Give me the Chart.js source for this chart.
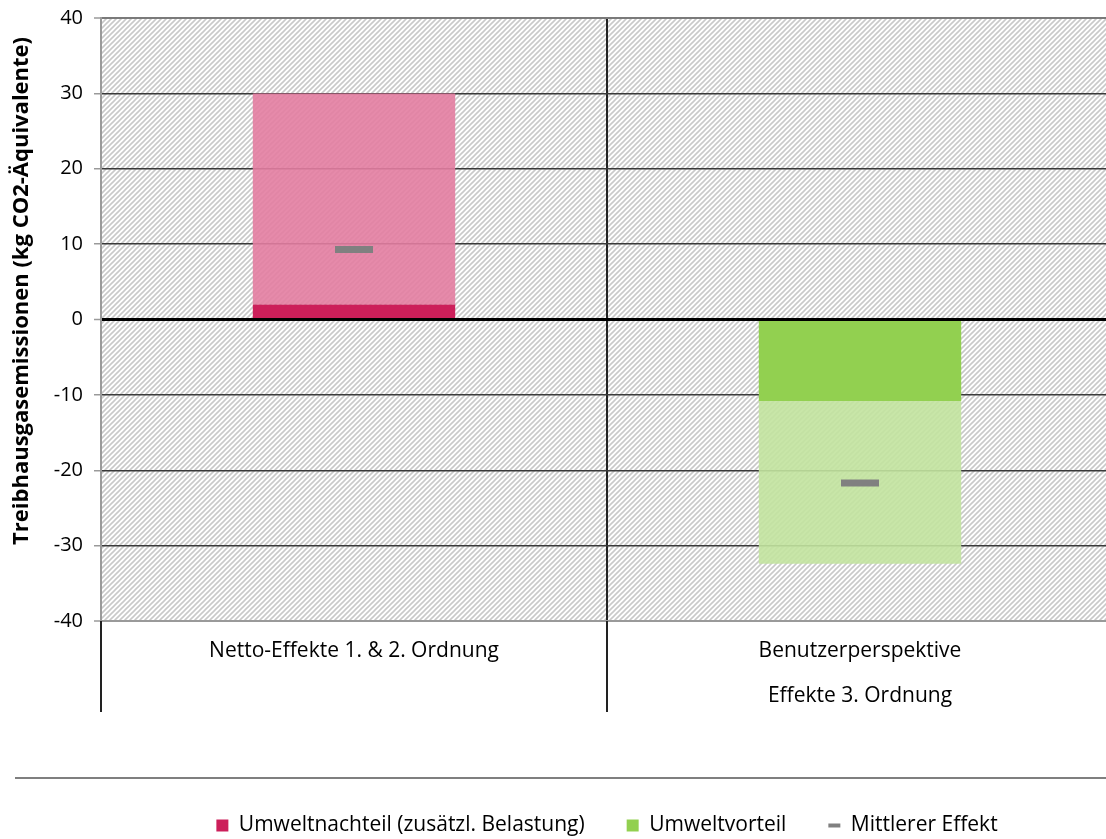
<!DOCTYPE html>
<html>
<head>
<meta charset="utf-8">
<script src="https://cdn.jsdelivr.net/npm/chart.js@4"></script>
<style>
    body { margin: 0; background: #fff; }
    #wrap { width: 1106px; height: 839px; overflow: hidden; position: relative; }
    #chart { display: block; }
</style>
</head>
<body>
<div id="wrap"><canvas id="chart" width="1113" height="846"></canvas></div>
<script>
// chart data
const categories = ['Netto-Effekte 1. & 2. Ordnung', ['Benutzerperspektive', 'Effekte 3. Ordnung']];
const nachteilSicher = [2, null];      // dark pink, from 0
const nachteilSpanne = [28, null];     // light pink, stacked on top
const vorteilSicher = [null, -10.8];   // dark green, from 0
const vorteilSpanne = [null, -21.6];   // light green, stacked below
const mittlererEffekt = [9.3, -21.7];
const yTicks = [-40, -30, -20, -10, 0, 10, 20, 30, 40];

const legendLabels = ['Umweltnachteil (zusätzl. Belastung)', 'Umweltvorteil', 'Mittlerer Effekt'];

const FONT = "'Open Sans', 'DejaVu Sans', sans-serif";

// diagonal hatch used as plot background
function makeHatch() {
    const c = document.createElement('canvas');
    c.width = 5;
    c.height = 5;
    const g = c.getContext('2d');
    g.fillStyle = '#fff';
    g.fillRect(0, 0, 5, 5);
    g.strokeStyle = '#c9c9c9';
    g.lineWidth = 1.6;
    g.beginPath();
    g.moveTo(0, 5); g.lineTo(5, 0);
    g.moveTo(-1, 1); g.lineTo(1, -1);
    g.moveTo(4, 6); g.lineTo(6, 4);
    g.stroke();
    return c;
}

const hatchPlugin = {
    id: 'hatch',
    beforeDraw(chart) {
        const { ctx, chartArea: a } = chart;
        ctx.save();
        ctx.fillStyle = ctx.createPattern(makeHatch(), 'repeat');
        ctx.fillRect(a.left, a.top, a.right - a.left, a.bottom - a.top);
        ctx.restore();
    }
};

// category separators below the plot and the line above the legend
const extrasPlugin = {
    id: 'extras',
    afterDraw(chart) {
        const { ctx, chartArea: a } = chart;
        const xs = chart.scales.x;
        const n = categories.length;
        ctx.save();
        ctx.strokeStyle = '#222';
        ctx.lineWidth = 2;
        for (let i = 0; i <= n; i++) {
            let x;
            if (i === 0) x = a.left;
            else if (i === n) x = a.right;
            else x = (xs.getPixelForValue(i - 1) + xs.getPixelForValue(i)) / 2;
            ctx.beginPath();
            ctx.moveTo(x, a.bottom);
            ctx.lineTo(x, a.bottom + 91);
            ctx.stroke();
        }
        const ly = chart.legend.top + 5;
        ctx.strokeStyle = '#7f7f7f';
        ctx.lineWidth = 2;
        ctx.beginPath();
        ctx.moveTo(15, ly);
        ctx.lineTo(chart.width, ly);
        ctx.stroke();
        ctx.restore();
    }
};

new Chart(document.getElementById('chart'), {
    data: {
        labels: categories,
        datasets: [
            {
                type: 'line',
                label: legendLabels[2],
                data: mittlererEffekt,
                stack: 'mean',
                order: 0,
                showLine: false,
                pointStyle: 'line',
                pointRadius: 19,
                pointBorderWidth: 7,
                pointBorderColor: '#808080',
                borderColor: '#808080',
                backgroundColor: '#808080'
            },
            {
                type: 'bar',
                label: legendLabels[0],
                data: nachteilSicher,
                backgroundColor: '#CC1F5A',
                order: 1
            },
            {
                type: 'bar',
                label: 'nachteil-spanne',
                data: nachteilSpanne,
                backgroundColor: 'rgba(227,125,161,0.9)',
                order: 1
            },
            {
                type: 'bar',
                label: legendLabels[1],
                data: vorteilSicher,
                backgroundColor: '#92D050',
                order: 1
            },
            {
                type: 'bar',
                label: 'vorteil-spanne',
                data: vorteilSpanne,
                backgroundColor: 'rgba(194,227,158,0.9)',
                order: 1
            }
        ]
    },
    options: {
        responsive: false,
        animation: false,
        devicePixelRatio: 1,
        datasets: {
            bar: { categoryPercentage: 1, barPercentage: 0.4 }
        },
        layout: {
            autoPadding: false,
            padding: { top: 18, left: 0, right: 0, bottom: 0 }
        },
        plugins: {
            tooltip: { enabled: false },
            legend: {
                position: 'bottom',
                fullSize: false,
                labels: {
                    usePointStyle: true,
                    pointStyleWidth: 12,
                    boxWidth: 12,
                    boxHeight: 12,
                    padding: 42,
                    color: '#000',
                    font: { family: FONT, size: 21 },
                    generateLabels() {
                        return [
                            { text: legendLabels[0], fillStyle: '#CC1F5A', strokeStyle: '#CC1F5A', lineWidth: 0, pointStyle: 'rect', datasetIndex: 1, hidden: false },
                            { text: legendLabels[1], fillStyle: '#92D050', strokeStyle: '#92D050', lineWidth: 0, pointStyle: 'rect', datasetIndex: 3, hidden: false },
                            { text: legendLabels[2], fillStyle: '#808080', strokeStyle: '#808080', lineWidth: 4, pointStyle: 'line', datasetIndex: 0, hidden: false }
                        ];
                    }
                }
            }
        },
        scales: {
            x: {
                stacked: true,
                offset: true,
                grid: {
                    offset: true,
                    drawTicks: false,
                    color: ctx => ctx.index === 0 ? 'rgba(0,0,0,0)' : '#222',
                    lineWidth: 2
                },
                border: { display: true, color: '#9a9a9a', width: 2 },
                ticks: {
                    color: '#000',
                    padding: 8,
                    autoSkip: false,
                    maxRotation: 0,
                    font: { family: FONT, size: 21, lineHeight: '45px' }
                },
                afterFit(scale) {
                    scale.height = 152;
                    scale.paddingLeft = 0;
                    scale.paddingRight = 0;
                }
            },
            y: {
                stacked: true,
                min: yTicks[0],
                max: yTicks[yTicks.length - 1],
                afterBuildTicks(scale) { scale.ticks = yTicks.map(v => ({ value: v })); },
                grid: {
                    color: ctx => {
                        const v = ctx.tick && ctx.tick.value;
                        if (v === 0) return '#000';
                        if (v === 40) return '#7a7a7a';
                        if (v === -40) return '#9a9a9a';
                        return '#3a3a3a';
                    },
                    lineWidth: ctx => {
                        const v = ctx.tick && ctx.tick.value;
                        if (v === 0) return 3;
                        if (v === 40 || v === -40) return 2;
                        return 1.5;
                    },
                    tickColor: '#9a9a9a',
                    tickWidth: 1.5,
                    tickLength: 7
                },
                border: { display: true, color: '#9a9a9a', width: 2 },
                ticks: {
                    color: '#000',
                    padding: 11,
                    font: { family: FONT, size: 20 }
                },
                title: {
                    display: true,
                    text: '\u00a0'.repeat(10) + 'Treibhausgasemissionen (kg CO2-Äquivalente)',
                    color: '#000',
                    padding: { top: 9, bottom: 0 },
                    font: { family: FONT, size: 22, weight: 'bold' }
                },
                afterFit(scale) {
                    scale.width = 101;
                    scale.paddingTop = 0;
                    scale.paddingBottom = 0;
                }
            }
        }
    },
    plugins: [hatchPlugin, extrasPlugin]
});
</script>
</body>
</html>
